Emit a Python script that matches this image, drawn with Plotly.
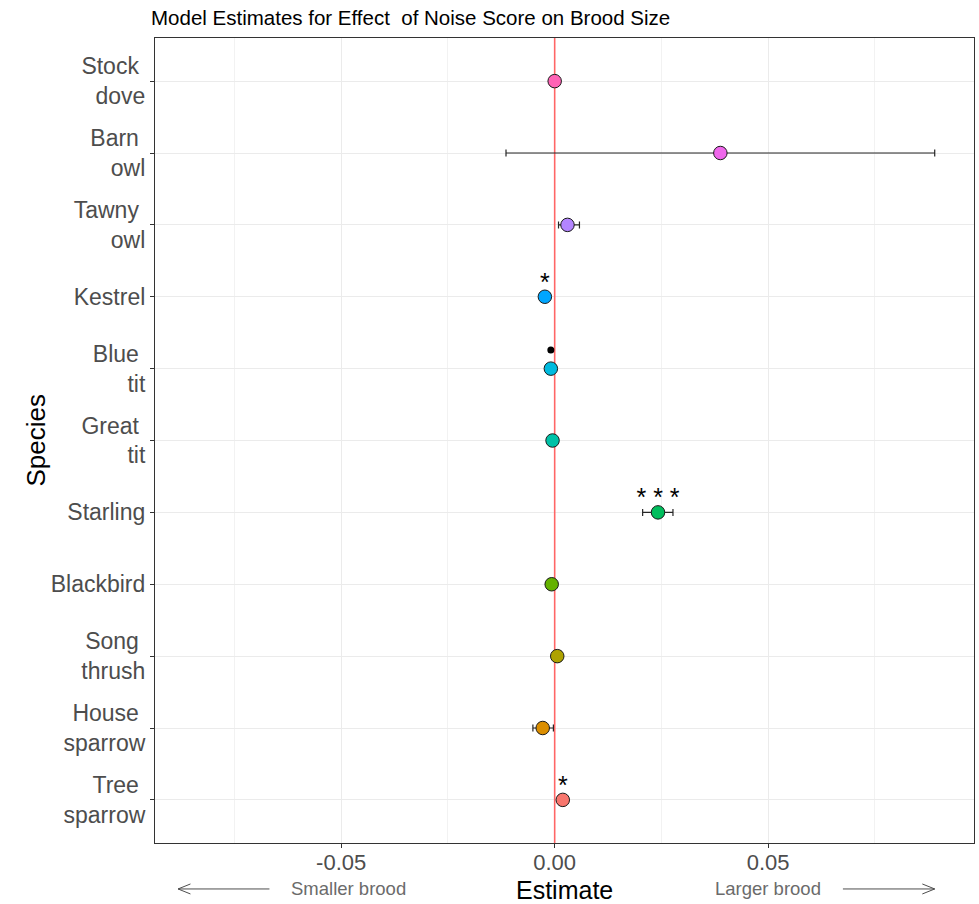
import plotly.graph_objects as go

# Species, top to bottom
species = ["Stock dove", "Barn owl", "Tawny owl", "Kestrel", "Blue tit", "Great tit",
           "Starling", "Blackbird", "Song thrush", "House sparrow", "Tree sparrow"]
tick_labels = ["Stock\u00a0<br>dove", "Barn\u00a0<br>owl", "Tawny\u00a0<br>owl", "Kestrel",
               "Blue\u00a0<br>tit", "Great\u00a0<br>tit", "Starling", "Blackbird",
               "Song\u00a0<br>thrush", "House\u00a0<br>sparrow", "Tree\u00a0<br>sparrow"]

# Model estimates and 95% confidence limits
estimate = [0.0000, 0.0388, 0.0030, -0.0023, -0.0009, -0.0005, 0.0242, -0.0007, 0.0006, -0.0028, 0.0019]
lower = [-0.0006, -0.0114, 0.0009, -0.0035, -0.0019, -0.0013, 0.0206, -0.0016, -0.0004, -0.0051, 0.0007]
upper = [0.0006, 0.0890, 0.0058, -0.0011, 0.0001, 0.0003, 0.0277, 0.0002, 0.0016, -0.0003, 0.0031]
signif = ["", "", "", "*", ".", "", "***", "", "", "", "*"]

colors = ["#FF63B6", "#EF67EB", "#B385FF", "#00A6FF", "#00BADE", "#00C1A7",
          "#00BD5C", "#64B200", "#AEA200", "#DB8E00", "#F8766D"]

x_ticks = [-0.05, 0.0, 0.05]
x_tick_text = ["-0.05", "0.00", "0.05"]
x_minor = [-0.075, -0.025, 0.025, 0.075]
x_range = [-0.0936, 0.0982]

ypos = list(range(len(species)))
n = len(species)
y_range = [n - 1 + 0.6, -0.6]

FONT = "Liberation Sans, Arial, sans-serif"

fig = go.Figure()

# zero reference line, drawn first so the points sit on top of it
fig.add_trace(go.Scatter(
    x=[0, 0], y=[y_range[1], y_range[0]], mode="lines",
    line=dict(color="#FF6666", width=1.6), hoverinfo="skip",
))

# estimates with error bars
fig.add_trace(go.Scatter(
    x=estimate, y=ypos, mode="markers",
    marker=dict(size=13.5, color=colors, line=dict(color="#1a1a1a", width=1)),
    error_x=dict(type="data", symmetric=False,
                 array=[u - e for u, e in zip(upper, estimate)],
                 arrayminus=[e - l for e, l in zip(estimate, lower)],
                 color="#262626", thickness=1.2, width=3.5),
    hoverinfo="skip",
))

# significance stars
star_idx = [i for i, s in enumerate(signif) if "*" in s]
fig.add_trace(go.Scatter(
    x=[estimate[i] for i in star_idx],
    y=[ypos[i] - 0.17 for i in star_idx],
    mode="text",
    text=[" ".join(signif[i]) for i in star_idx],
    textposition="middle center",
    textfont=dict(family=FONT, size=25, color="black"),
    hoverinfo="skip",
))

# marginal significance dot
dot_idx = [i for i, s in enumerate(signif) if s == "."]
fig.add_trace(go.Scatter(
    x=[estimate[i] for i in dot_idx],
    y=[ypos[i] - 0.26 for i in dot_idx],
    mode="markers",
    marker=dict(size=7, color="black"),
    hoverinfo="skip",
))

# direction arrows below the axis
y_arrow = -0.0571
head_dx = 0.0029
head_dy = 0.0062
arrow_color = "#4D4D4D"
for tip, tail in [(-0.0882, -0.0668), (0.0890, 0.0675)]:
    fig.add_shape(type="line", xref="x", yref="paper", x0=tail, x1=tip,
                  y0=y_arrow, y1=y_arrow, line=dict(color=arrow_color, width=1))
    back = tip + head_dx if tip < tail else tip - head_dx
    fig.add_shape(type="path", xref="x", yref="paper",
                  path=f"M {back} {y_arrow + head_dy} L {tip} {y_arrow} L {back} {y_arrow - head_dy}",
                  line=dict(color=arrow_color, width=1))

annotations = [
    dict(text="Estimate", xref="paper", yref="paper", x=0.5, y=0, yshift=-47,
         xanchor="center", yanchor="middle", showarrow=False,
         font=dict(family=FONT, size=25, color="black")),
    dict(text="Species", xref="paper", yref="paper", x=0, y=0.5, xshift=-120,
         xanchor="center", yanchor="middle", textangle=-90, showarrow=False,
         font=dict(family=FONT, size=26, color="black")),
    dict(text="Smaller brood", xref="x", yref="paper", x=-0.0484, y=y_arrow,
         xanchor="center", yanchor="middle", showarrow=False,
         font=dict(family=FONT, size=18.5, color="#6B6B6B")),
    dict(text="Larger brood", xref="x", yref="paper", x=0.0500, y=y_arrow,
         xanchor="center", yanchor="middle", showarrow=False,
         font=dict(family=FONT, size=18.5, color="#6B6B6B")),
]

fig.update_layout(
    width=979, height=904,
    margin=dict(l=155, r=5, t=38, b=61),
    plot_bgcolor="white", paper_bgcolor="white",
    showlegend=False,
    title=dict(text="Model Estimates for Effect\u00a0 of Noise Score on Brood Size",
               xref="container", x=151 / 979, xanchor="left",
               yref="container", y=1 - 18 / 904, yanchor="middle",
               font=dict(family=FONT, size=20.5, color="black")),
    xaxis=dict(range=x_range, tickvals=x_ticks, ticktext=x_tick_text,
               showgrid=True, gridcolor="#EBEBEB", gridwidth=1.1, zeroline=False,
               showline=True, mirror=True, linecolor="#333333", linewidth=1.2,
               ticks="outside", ticklen=4, tickcolor="#333333", tickwidth=1,
               ticklabelstandoff=-5,
               tickfont=dict(family=FONT, size=22, color="#4D4D4D"),
               minor=dict(tickvals=x_minor, showgrid=True, gridcolor="#F2F2F2",
                          gridwidth=0.6, ticks="")),
    yaxis=dict(range=y_range, tickvals=ypos, ticktext=tick_labels,
               showgrid=True, gridcolor="#EBEBEB", gridwidth=1.1, zeroline=False,
               showline=True, mirror=True, linecolor="#333333", linewidth=1.2,
               ticks="outside", ticklen=4, tickcolor="#333333", tickwidth=1,
               tickfont=dict(family=FONT, size=23, color="#4D4D4D")),
    annotations=annotations,
)

fig.write_html("out.html")
